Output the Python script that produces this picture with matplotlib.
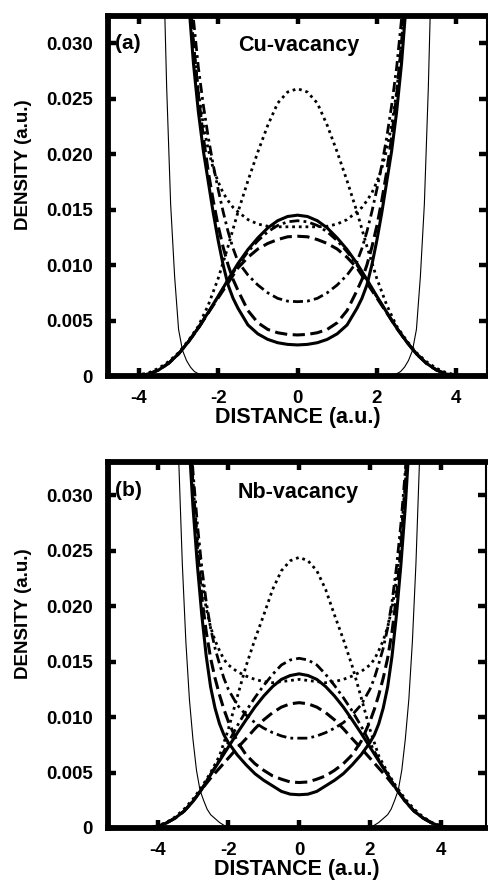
import numpy as np
import matplotlib
matplotlib.use('Agg')
import matplotlib.pyplot as plt

# Perfis de densidade simetricos: valores lidos para x >= 0 e espelhados

# ---- painel (a) Cu-vacancy ----
cu_x_bell = [0, 0.25, 0.5, 0.75, 1.0, 1.25, 1.5, 1.75, 2.0, 2.25, 2.5, 2.75, 3.0, 3.25, 3.5, 3.75, 4.0, 4.25]
cu_solid_bell = [0.01450, 0.01438, 0.01400, 0.01335, 0.01245, 0.01140, 0.01015, 0.00870, 0.00720, 0.00575,
                 0.00435, 0.00310, 0.00200, 0.00115, 0.00055, 0.00018, 0.00003, 0.0]
cu_dash_bell = [0.01260, 0.01255, 0.01230, 0.01195, 0.01145, 0.01070, 0.00975, 0.00840, 0.00705, 0.00570,
                0.00432, 0.00308, 0.00199, 0.00115, 0.00055, 0.00018, 0.00003, 0.0]
cu_dashdot_bell = [0.01400, 0.01390, 0.01357, 0.01300, 0.01220, 0.01120, 0.01000, 0.00862, 0.00715, 0.00572,
                   0.00434, 0.00310, 0.00200, 0.00115, 0.00055, 0.00018, 0.00003, 0.0]
cu_dot_bell = [0.02590, 0.02560, 0.02460, 0.02260, 0.02020, 0.01760, 0.01480, 0.01170, 0.00880, 0.00640,
               0.00450, 0.00320, 0.00210, 0.00130, 0.00070, 0.00030, 0.00010, 0.0]

cu_x_u = [0, 0.25, 0.5, 0.75, 1.0, 1.25, 1.5, 1.625, 1.75, 1.875, 2.0, 2.125, 2.25, 2.375, 2.5, 2.625, 2.75, 2.875]
cu_solid_u = [0.0028, 0.00285, 0.0030, 0.0033, 0.0038, 0.0046, 0.0061, 0.0070, 0.0082, 0.0100, 0.0122, 0.0147,
              0.0175, 0.0203, 0.0238, 0.0282, 0.0340, 0.042]
cu_dash_u = [0.0037, 0.00375, 0.0039, 0.0042, 0.0048, 0.0059, 0.0077, 0.0087, 0.0100, 0.0116, 0.0135, 0.0158,
             0.0184, 0.0215, 0.0253, 0.0300, 0.0360, 0.044]
cu_dashdot_u = [0.0067, 0.00675, 0.0070, 0.0075, 0.0082, 0.0091, 0.0103, 0.0115, 0.0130, 0.0148, 0.0168, 0.0190,
                0.0215, 0.0244, 0.0278, 0.0322, 0.0380, 0.046]
cu_dot_u = [0.01345, 0.01345, 0.01345, 0.01350, 0.0137, 0.0141, 0.0148, 0.0152, 0.0158, 0.0165, 0.0175, 0.0187,
            0.0204, 0.0226, 0.0256, 0.0300, 0.0360, 0.044]

cu_x_thin = [0, 1.0, 2.0, 2.3, 2.5, 2.6, 2.7, 2.8, 2.9, 3.0, 3.1, 3.2, 3.3, 3.4, 3.5]
cu_thin = [0, 0, 0, 0.00005, 0.0002, 0.0004, 0.0008, 0.0014, 0.0023, 0.0042, 0.0090, 0.0155, 0.0260, 0.0400, 0.060]

# ---- painel (b) Nb-vacancy ----
nb_x_bell = [0, 0.25, 0.5, 0.75, 1.0, 1.25, 1.5, 1.75, 2.0, 2.25, 2.5, 2.75, 3.0, 3.25, 3.5, 3.75, 4.0, 4.25]
nb_solid_bell = [0.0139, 0.01375, 0.01340, 0.01275, 0.01190, 0.01090, 0.00975, 0.00855, 0.00730, 0.00605,
                 0.00480, 0.00350, 0.00240, 0.00152, 0.00090, 0.00045, 0.00015, 0.0]
nb_dash_bell = [0.0113, 0.01120, 0.01090, 0.01040, 0.00975, 0.00895, 0.00805, 0.00720, 0.00630, 0.00540,
                0.00450, 0.00350, 0.00240, 0.00152, 0.00090, 0.00045, 0.00015, 0.0]
nb_dashdot_bell = [0.0153, 0.01515, 0.01470, 0.01385, 0.01285, 0.01175, 0.01055, 0.00920, 0.00770, 0.00615,
                   0.00485, 0.00350, 0.00240, 0.00152, 0.00090, 0.00045, 0.00015, 0.0]
nb_dot_bell = [0.0244, 0.0241, 0.0232, 0.0215, 0.0192, 0.0170, 0.0146, 0.0118, 0.0089, 0.0065,
               0.0050, 0.0037, 0.0026, 0.0017, 0.0010, 0.0005, 0.0002, 0.0]

nb_x_u = [0, 0.25, 0.5, 0.75, 1.0, 1.25, 1.5, 1.75, 2.0, 2.125, 2.25, 2.375, 2.5, 2.625, 2.75, 2.875, 3.0,
          3.125, 3.25]
nb_solid_u = [0.0030, 0.00305, 0.0033, 0.0038, 0.0043, 0.0049, 0.0057, 0.0066, 0.0077, 0.0084, 0.0094, 0.0108,
              0.0127, 0.0155, 0.0192, 0.0237, 0.0290, 0.0355, 0.045]
nb_dash_u = [0.0041, 0.00415, 0.0044, 0.0047, 0.0052, 0.0058, 0.0066, 0.0078, 0.0096, 0.0107, 0.0120, 0.0135,
             0.0153, 0.0177, 0.0208, 0.0252, 0.0310, 0.0380, 0.047]
nb_dashdot_u = [0.0081, 0.0081, 0.0083, 0.0086, 0.0090, 0.0095, 0.0102, 0.0111, 0.0125, 0.0135, 0.0148, 0.0162,
                0.0180, 0.0204, 0.0235, 0.0274, 0.0322, 0.0380, 0.046]
nb_dot_u = [0.0134, 0.0133, 0.0132, 0.0131, 0.0132, 0.0134, 0.0137, 0.0141, 0.0147, 0.0152, 0.0160, 0.0169,
            0.0181, 0.0198, 0.0224, 0.0262, 0.0310, 0.0380, 0.046]

nb_x_thin = [0, 1.0, 2.0, 2.25, 2.5, 2.6, 2.7, 2.8, 2.9, 3.0, 3.1, 3.2, 3.3, 3.4, 3.5]
nb_thin = [0, 0, 0, 0.0005, 0.0012, 0.0017, 0.0025, 0.0034, 0.0052, 0.0080, 0.0116, 0.0168, 0.0238, 0.0330, 0.045]

x_ticks = [-4, -2, 0, 2, 4]
y_ticks = [0, 0.005, 0.010, 0.015, 0.020, 0.025, 0.030]
y_tick_labels = ['0', '0.005', '0.010', '0.015', '0.020', '0.025', '0.030']


def mirror(x, y):
    x = list(x)
    y = list(y)
    xs = [-v for v in x[::-1]] + x[1:]
    ys = y[::-1] + y[1:]
    return np.array(xs), np.array(ys)


plt.rcParams['font.family'] = ['Liberation Sans', 'DejaVu Sans']
plt.rcParams['font.weight'] = 'bold'

# estilos de linha
solid = dict(color='black', lw=2.2, ls='-')
dashed = dict(color='black', lw=2.2, ls=(0, (4, 1.8)))
dashdot = dict(color='black', lw=2.0, ls=(0, (3.6, 1.5, 1, 1.5)))
dotted = dict(color='black', lw=2.0, ls=(0, (1, 1.4)))
thin = dict(color='black', lw=0.8, ls='-')

fig = plt.figure(figsize=(4.89, 8.84), dpi=100)
ax1 = fig.add_axes([108 / 489, 1 - 376 / 884, 379 / 489, 360.5 / 884])
ax2 = fig.add_axes([108 / 489, 1 - 828 / 884, 378 / 489, 366 / 884])

panels = [
    (ax1, '(a)', 'Cu-vacancy', (-4.78, 4.78), 0.0325,
     cu_x_bell, [cu_solid_bell, cu_dash_bell, cu_dashdot_bell, cu_dot_bell],
     cu_x_u, [cu_solid_u, cu_dash_u, cu_dashdot_u, cu_dot_u], cu_x_thin, cu_thin),
    (ax2, '(b)', 'Nb-vacancy', (-5.4, 5.28), 0.033,
     nb_x_bell, [nb_solid_bell, nb_dash_bell, nb_dashdot_bell, nb_dot_bell],
     nb_x_u, [nb_solid_u, nb_dash_u, nb_dashdot_u, nb_dot_u], nb_x_thin, nb_thin),
]

for ax, tag, name, xlim, ytop, xb, bells, xu, us, xt, yt in panels:
    styles = [solid, dashed, dashdot, dotted]
    for yb, st in zip(bells, styles):
        xx, yy = mirror(xb, yb)
        ax.plot(xx, yy, **st)
    for yu, st in zip(us, styles):
        xx, yy = mirror(xu, yu)
        ax.plot(xx, yy, **st)
    xx, yy = mirror(xt, yt)
    ax.plot(xx, yy, **thin)

    ax.set_xlim(*xlim)
    ax.set_ylim(0, ytop)
    ax.set_xticks(x_ticks)
    ax.set_xticklabels([str(t) for t in x_ticks])
    ax.set_yticks(y_ticks)
    ax.set_yticklabels(y_tick_labels)
    ax.tick_params(direction='in', length=6, width=3.2, top=True, right=True,
                   labelsize=13.5)
    ax.tick_params(axis='y', pad=11)
    ax.tick_params(axis='x', pad=10)
    for side in ['left', 'bottom', 'top']:
        ax.spines[side].set_linewidth(4.2)
    ax.spines['right'].set_linewidth(1.5)

    ax.set_xlabel('DISTANCE (a.u.)', fontsize=15.5, fontweight='bold', labelpad=0)
    ax.set_ylabel('DENSITY (a.u.)', fontsize=13.5, fontweight='bold')
    ax.yaxis.set_label_coords(-0.2, 0.585)

    ax.text(0.018, 0.922, tag, transform=ax.transAxes, fontsize=15,
            fontweight='bold', ha='left', va='center')
    ax.text(0.503, 0.917, name, transform=ax.transAxes, fontsize=15.5,
            fontweight='bold', ha='center', va='center')

fig.savefig('out.png', dpi=100)
